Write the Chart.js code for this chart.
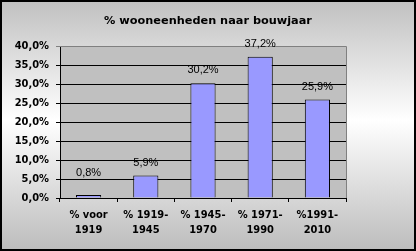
<!DOCTYPE html>
<html>
<head>
<meta charset="utf-8">
<script src="https://cdn.jsdelivr.net/npm/chart.js@4"></script>
<style>
  html, body { margin: 0; padding: 0; background: #fff; }
  #wrap { width: 416px; height: 251px; }
</style>
</head>
<body>
<div id="wrap"><canvas id="myChart" width="416" height="251"></canvas></div>
<script>
const categories = [["% voor", "1919"], ["% 1919-", "1945"], ["% 1945-", "1970"], ["% 1971-", "1990"], ["%1991-", "2010"]];
const values = [0.8, 5.9, 30.2, 37.2, 25.9];
const yTicks = [0, 5, 10, 15, 20, 25, 30, 35, 40];
const chartTitle = "% wooneenheden naar bouwjaar";

const ctx = document.getElementById("myChart");
const axisFont = "'DejaVu Sans Condensed', 'DejaVu Sans', Verdana, sans-serif";

function pct(v) {
  return v.toFixed(1).replace(".", ",") + "%";
}

// achtergrond met verloop, zwarte rand, grijs plotvlak en titel
const bgPlugin = {
  id: "bg",
  beforeDraw(chart) {
    const c = chart.ctx;
    const w = chart.width, h = chart.height;
    const g = c.createLinearGradient(0, 0, 0, h);
    g.addColorStop(0, "#c0c0c0");
    g.addColorStop(0.48, "#ffffff");
    g.addColorStop(1, "#bcbcbc");
    c.save();
    c.fillStyle = g;
    c.fillRect(0, 0, w, h);
    c.strokeStyle = "#000";
    c.lineWidth = 2;
    c.strokeRect(1, 1, w - 2, h - 2);
    const a = chart.chartArea;
    c.fillStyle = "#c0c0c0";
    c.fillRect(a.left, a.top, a.right - a.left, a.bottom - a.top);
    c.fillStyle = "#000";
    c.font = "bold 11.3px 'DejaVu Sans', Verdana, sans-serif";
    c.textAlign = "center";
    c.textBaseline = "middle";
    c.fillText(chartTitle, w / 2, 21);
    c.restore();
  },
  afterDatasetsDraw(chart) {
    const c = chart.ctx;
    const a = chart.chartArea;
    c.save();
    c.strokeStyle = "#808080";
    c.lineWidth = 1;
    c.beginPath();
    c.moveTo(a.left, a.top + 0.5);
    c.lineTo(a.right + 0.5, a.top + 0.5);
    c.lineTo(a.right + 0.5, a.bottom);
    c.stroke();
    c.restore();
  }
};

// waardelabels boven de staven (niet te dicht op de as)
const labelPlugin = {
  id: "labels",
  afterDatasetsDraw(chart) {
    const c = chart.ctx;
    const a = chart.chartArea;
    const meta = chart.getDatasetMeta(0);
    c.save();
    c.font = "11px 'Liberation Sans', Arial, sans-serif";
    c.fillStyle = "#000";
    c.textAlign = "center";
    c.textBaseline = "middle";
    meta.data.forEach((bar, i) => {
      const y = Math.min(bar.y - 13, a.bottom - 25);
      c.fillText(pct(values[i]), bar.x, y);
    });
    c.restore();
  }
};

new Chart(ctx, {
  type: "bar",
  data: {
    labels: categories,
    datasets: [{
      data: values,
      backgroundColor: "#9999ff",
      borderColor: "#000",
      borderWidth: 1,
      barPercentage: 0.44,
      categoryPercentage: 1
    }]
  },
  options: {
    responsive: false,
    animation: false,
    devicePixelRatio: 1,
    layout: { padding: { left: 0, right: 70, top: 46, bottom: 0 } },
    plugins: {
      legend: { display: false },
      tooltip: { enabled: false },
      title: { display: false }
    },
    scales: {
      x: {
        afterFit(scale) { scale.height = 53; },
        grid: { drawOnChartArea: false, color: "#000", tickLength: 4, offset: true },
        border: { color: "#000" },
        ticks: {
          color: "#000",
          padding: 6,
          maxRotation: 0,
          font: { family: axisFont, size: 11, weight: "bold", lineHeight: 1.364 }
        }
      },
      y: {
        min: 0,
        max: 40,
        afterFit(scale) { scale.width = 60; },
        afterBuildTicks(scale) { scale.ticks = yTicks.map(v => ({ value: v })); },
        grid: {
          color: (c) => (c.tick && c.tick.value === 40 ? "#808080" : "#000"),
          tickLength: 4
        },
        border: { color: "#000" },
        ticks: {
          color: "#000",
          padding: 7,
          callback: (v) => pct(v),
          font: { family: axisFont, size: 11, weight: "bold" }
        }
      }
    }
  },
  plugins: [bgPlugin, labelPlugin]
});
</script>
</body>
</html>
